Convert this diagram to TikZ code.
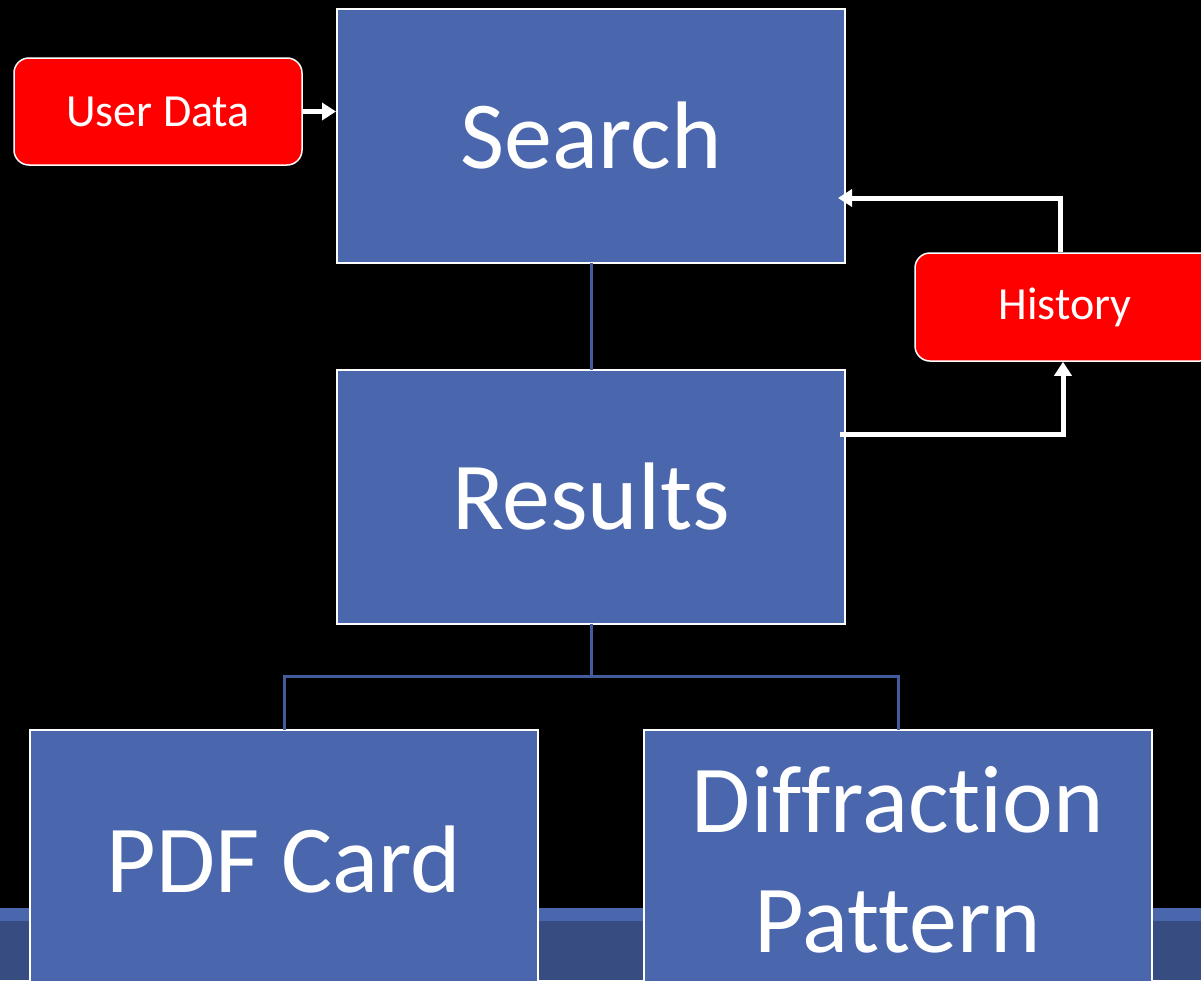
\documentclass[tikz,border=0pt]{standalone}
\usepackage{fontspec}
\setmainfont{Carlito}[Ligatures={NoCommon,NoRare,NoContextual}]
\usetikzlibrary{arrows.meta}
\definecolor{boxblue}{RGB}{74,102,172}
\definecolor{bandblue}{RGB}{55,76,128}
\definecolor{linkblue}{RGB}{66,92,158}
\begin{document}
\begin{tikzpicture}[x=1pt,y=-1pt,
 bigbox/.style={draw=white,line width=2pt,fill=boxblue,text=white,minimum width=508pt,minimum height=254pt,font=\fontsize{96}{120}\selectfont,align=center,inner sep=0pt},
 redbox/.style={draw=white,line width=1.5pt,fill=red,rounded corners=15pt,text=white,font=\fontsize{46}{56}\selectfont,inner sep=0pt},
 tree/.style={draw=linkblue,line width=3pt},
 flow/.style={draw=white,line width=5pt,-{Triangle[length=14pt,width=17pt]}}]
\useasboundingbox (0,0) rectangle (1201,980);
\fill[black] (0,0) rectangle (1201,980);
\clip (0,0) rectangle (1201,980);
\fill[boxblue] (0,908) rectangle (1201,921);
\fill[bandblue] (0,921) rectangle (1201,980);
% boxes
\node[bigbox] (search) at (591,136) {Search};
\node[bigbox] (results) at (591,496.5) {Results};
\node[bigbox,minimum height=260pt] (pdf) at (284,860) {PDF Card};
\node[bigbox,minimum height=260pt] (diff) at (898,860) {Diffraction\\Pattern};
\node[redbox,minimum width=288pt,minimum height=107pt] (ud) at (158,111.5) {User Data};
\node[redbox,minimum width=300pt,minimum height=108pt] (hist) at (1065,307) {History};
% tree connectors
\draw[tree] ([yshift=1pt]search.south) -- ([yshift=-1pt]results.north);
\draw[tree] ([yshift=1pt]results.south) -- ++(0,53) -| ([yshift=-1pt]pdf.north);
\draw[tree] ([yshift=1pt]results.south) -- ++(0,53) -| ([yshift=-1pt]diff.north);
% flow arrows
\coordinate (hin) at (838,198);
\coordinate (rout) at (840,434);
\draw[flow] (ud.east) -- (ud.east -| search.west);
\draw[flow] ([xshift=-5pt]hist.north) |- (hin);
\draw[flow] (rout) -| ([xshift=-2pt]hist.south);
\end{tikzpicture}
\end{document}
